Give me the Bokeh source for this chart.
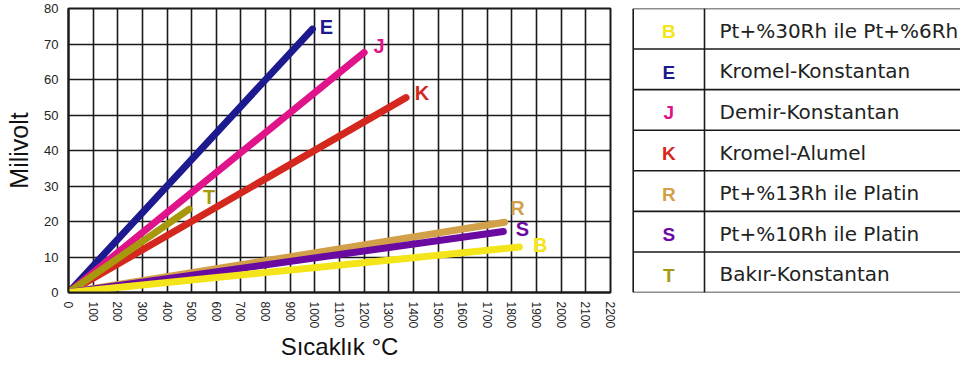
from bokeh.plotting import figure
from bokeh.models import Range1d, FixedTicker, ColumnDataSource
from bokeh.layouts import row
from bokeh.embed import file_html
from bokeh.resources import INLINE
from bokeh.core.properties import value

# ---------------- data ----------------
x_ticks = list(range(0, 2201, 100))
y_ticks = list(range(0, 81, 10))

# thermocouple curves (temperature °C, millivolt)
temp_E = [0, 990];  mv_E = [0, 74.2]
temp_J = [0, 1200]; mv_J = [0, 67.6]
temp_K = [0, 1370]; mv_K = [0, 54.9]
temp_T = [0, 490];  mv_T = [0, 23.5]
temp_R = [0, 1770]; mv_R = [0, 19.8]
temp_S = [0, 1765]; mv_S = [0, 17.2]
temp_B = [0, 1830]; mv_B = [0, 12.8]

codes = ["B", "E", "J", "K", "R", "S", "T"]
names = ["Pt+%30Rh ile Pt+%6Rh", "Kromel-Konstantan", "Demir-Konstantan",
         "Kromel-Alumel", "Pt+%13Rh ile Platin", "Pt+%10Rh ile Platin",
         "Bakır-Konstantan"]

# ---------------- styles ----------------
colors = {"B": "#f4e51a", "E": "#1c1a8e", "J": "#e0148a", "K": "#d4281f",
          "R": "#d3a04a", "S": "#6a0aa0", "T": "#a8980e"}
label_offsets = {"E": (14, -2), "J": (15, -7), "K": (16, -5), "T": (20, -12),
                 "R": (13, -14), "S": (19, -2), "B": (21, -2)}
series = [("E", temp_E, mv_E), ("J", temp_J, mv_J), ("K", temp_K, mv_K),
          ("T", temp_T, mv_T), ("R", temp_R, mv_R), ("S", temp_S, mv_S),
          ("B", temp_B, mv_B)]

FONT = "Liberation Sans"
INK = "#1a1a1a"
H = 365
TOP = 8
BOTTOM = 73
LW = 620

p = figure(width=LW, height=H, x_range=Range1d(0, 2200), y_range=Range1d(0, 80),
           output_backend="svg", toolbar_location=None,
           min_border_left=68, min_border_right=10,
           min_border_top=TOP, min_border_bottom=BOTTOM)
p.xaxis.ticker = FixedTicker(ticks=x_ticks)
p.yaxis.ticker = FixedTicker(ticks=y_ticks)
p.xgrid.ticker = FixedTicker(ticks=x_ticks)
p.ygrid.ticker = FixedTicker(ticks=y_ticks)
p.grid.grid_line_color = INK
p.grid.grid_line_width = 1.6
p.grid.grid_line_alpha = 1
p.outline_line_color = INK
p.outline_line_width = 2
p.outline_line_alpha = 1
for ax in (p.xaxis, p.yaxis):
    ax.major_tick_out = 0
    ax.major_tick_in = 0
    ax.minor_tick_out = 0
    ax.minor_tick_in = 0
    ax.axis_line_color = INK
    ax.axis_line_width = 2
    ax.major_label_text_font = FONT
    ax.major_label_text_color = "#222222"
    ax.axis_label_text_font = FONT
    ax.axis_label_text_font_style = "normal"
    ax.axis_label_text_color = "#111111"
p.xaxis.major_label_text_font_size = "12px"
p.yaxis.major_label_text_font_size = "13px"
p.xaxis.major_label_standoff = 9
p.yaxis.major_label_standoff = 10
p.xaxis.axis_label_text_font_size = "24px"
p.yaxis.axis_label_text_font_size = "25px"
p.xaxis.major_label_orientation = "vertical"
p.xaxis.axis_label = "Sıcaklık °C"
p.yaxis.axis_label = "Milivolt"
p.xaxis.axis_label_standoff = 2
p.yaxis.axis_label_standoff = 8

for code, tx, mv in series:
    p.line(tx, mv, line_color=colors[code], line_width=7, line_cap="round")

lab = ColumnDataSource(dict(
    x=[s[1][-1] for s in series], y=[s[2][-1] for s in series],
    t=[s[0] for s in series], c=[colors[s[0]] for s in series],
    dx=[label_offsets[s[0]][0] for s in series],
    dy=[label_offsets[s[0]][1] for s in series]))
p.text(x="x", y="y", text="t", text_color="c", x_offset="dx", y_offset="dy",
       source=lab, text_font=value(FONT), text_font_style="bold",
       text_font_size="20px", text_align="center", text_baseline="middle")

# ---------------- table ----------------
TW = 960 - LW
n = len(codes)
t = figure(width=TW, height=H, x_range=Range1d(0, TW), y_range=Range1d(n, 0),
           output_backend="svg", toolbar_location=None,
           x_axis_location=None, y_axis_location=None,
           min_border_left=0, min_border_right=0,
           min_border_top=TOP, min_border_bottom=BOTTOM)
t.grid.visible = False
t.outline_line_color = None

x_left, x_div, x_right = 12.7, 84, TW + 10
t.segment(x0=[x_left] * (n + 1), x1=[x_right] * (n + 1),
          y0=list(range(n + 1)), y1=list(range(n + 1)),
          line_color=INK, line_width=1.6)
t.segment(x0=[x_left, x_div], x1=[x_left, x_div], y0=[0, 0], y1=[n, n],
          line_color=INK, line_width=1.6)

tsrc = ColumnDataSource(dict(y=[i + 0.5 for i in range(n)], code=codes, name=names,
                             c=[colors[c] for c in codes]))
t.text(x=(x_left + x_div) / 2, y="y", text="code", text_color="c", source=tsrc,
       text_font=value(FONT), text_font_style="bold", text_font_size="19px",
       text_align="center", text_baseline="middle", y_offset=3)
t.text(x=99, y="y", text="name", text_color="#222222", source=tsrc,
       text_font=value("DejaVu Sans"), text_font_size="20px",
       text_align="left", text_baseline="middle", y_offset=2)

layout = row(p, t)
open("out.html", "w").write(file_html(layout, INLINE))
